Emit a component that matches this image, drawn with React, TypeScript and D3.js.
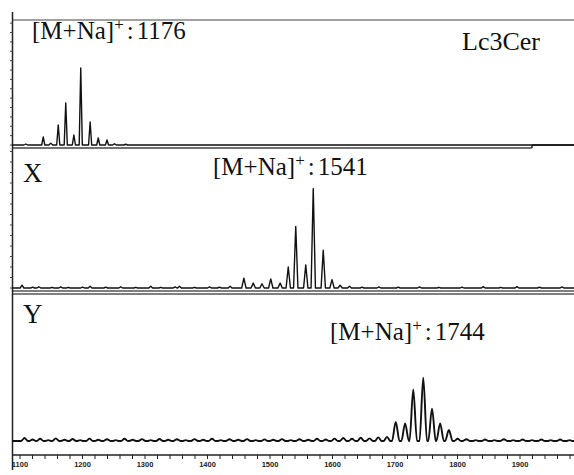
import React, { useEffect, useRef } from 'react';
import * as d3 from 'd3';

const W = 574;
const H = 475;

// m/z axis labels
const AXIS_LABELS = [1100, 1200, 1300, 1400, 1500, 1600, 1700, 1800, 1900];

// panel names and ion masses
const PANEL_NAMES = ['Lc3Cer', 'X', 'Y'];
const ION_MASSES = ['1176', '1541', '1744'];

// main peaks: [m/z, relative intensity 0-100 of panel height]
const lcPeaks: [number, number][] = [
  [1138, 6.4], [1162, 16], [1174, 33.6], [1187, 8], [1198, 61.6], [1213, 18.4], [1226, 5.6], [1240, 4],
];
const xPeaks: [number, number][] = [
  [1459, 7], [1474, 3.5], [1488, 3], [1502, 6.5], [1517, 3.5], [1530, 15], [1542, 44],
  [1558, 16.5], [1570, 71], [1586, 27], [1600, 6], [1613, 2],
];
const yPeaks: [number, number][] = [
  [1702, 13], [1717, 12], [1730, 35], [1746, 43], [1760, 22], [1773, 12], [1787, 7.5],
];

// small baseline bumps
const lcNoise: [number, number][] = [[1110, 0.8], [1150, 1.5], [1252, 1], [1270, 0.6]];
const xNoise: [number, number][] = [
  [1104, 2], [1121, 0.6], [1131, 0.9], [1152, 0.5], [1166, 0.8], [1178, 0.5], [1201, 0.7], [1213, 1.2],
  [1238, 0.6], [1262, 0.9], [1286, 0.5], [1310, 1.3], [1326, 0.5], [1349, 0.8], [1356, 1.2], [1380, 0.5],
  [1404, 0.8], [1420, 0.6], [1437, 1.2], [1628, 1.2], [1648, 0.6], [1675, 0.8], [1706, 0.6], [1740, 0.8],
  [1771, 0.5], [1808, 0.7], [1842, 1], [1870, 0.5], [1896, 1], [1932, 0.6], [1968, 0.8],
];
const yNoise: [number, number][] = [
  [1108, 2], [1121, 1], [1133, 1.5], [1146, 0.6], [1158, 1.8], [1172, 0.8], [1185, 1.4], [1197, 0.6],
  [1212, 1.6], [1226, 0.9], [1240, 1.2], [1254, 0.6], [1268, 1.5], [1281, 0.8], [1296, 1.3], [1310, 0.6],
  [1324, 1.4], [1338, 0.9], [1352, 1.2], [1366, 0.6], [1380, 1.3], [1394, 0.9], [1408, 1.5], [1422, 0.6],
  [1436, 1.2], [1450, 0.8], [1464, 1.3], [1478, 0.6], [1492, 1.1], [1506, 0.8], [1520, 1.3], [1534, 0.6],
  [1548, 1.2], [1562, 0.8], [1576, 1.5], [1590, 1], [1604, 1.6], [1618, 2], [1632, 1.5], [1646, 2.2],
  [1660, 1.8], [1674, 2.5], [1688, 2.8], [1801, 1.5], [1815, 1.2], [1830, 0.6], [1845, 1], [1860, 0.6],
  [1875, 1.2], [1890, 0.6], [1905, 1], [1920, 0.6], [1935, 1], [1950, 0.6], [1965, 1], [1980, 0.6],
];

const SERIF = '"Liberation Serif", "Times New Roman", serif';

const xScale = d3.scaleLinear().domain([1100, 2000]).range([19.5, 582]);

// panel geometry (top edge, baseline) + peak/bump half widths
const PANELS = [
  { top: 20, base: 145, peaks: lcPeaks, noise: lcNoise, hw: 2.5, nw: 3, curve: d3.curveLinear, sw: 1.4 },
  { top: 148, base: 288, peaks: xPeaks, noise: xNoise, hw: 3.5, nw: 3, curve: d3.curveLinear, sw: 1.4 },
  { top: 294, base: 441, peaks: yPeaks, noise: yNoise, hw: 6, nw: 5.5, curve: d3.curveMonotoneX, sw: 1.9 },
];

const spectrumPoints = (peaks: [number, number][], noise: [number, number][], hw: number, nw: number) => {
  const pts: [number, number][] = [[1080, 0], [2010, 0]];
  peaks.forEach(([c, h]) => pts.push([c - hw, 0], [c, h], [c + hw, 0]));
  noise.forEach(([c, h]) => pts.push([c - nw, 0], [c, h], [c + nw, 0]));
  return pts.sort((a, b) => a[0] - b[0]);
};

const IonLabel = ({ x, y, mass }: { x: number; y: number; mass: string }) => (
  <text x={x} y={y} fontFamily={SERIF} fontSize={25} fill="#111">
    [M+Na]
    <tspan dy={-9} fontSize={17}>+</tspan>
    <tspan dy={9} dx={3}>:</tspan>
    <tspan dx={3}>{mass}</tspan>
  </text>
);

const App = () => {
  const axisRef = useRef<SVGGElement>(null);

  useEffect(() => {
    const g = d3.select(axisRef.current);
    g.selectAll('*').remove();
    const axis = d3
      .axisBottom(xScale)
      .tickValues(d3.range(1100, 2000, 20))
      .tickSize(4)
      .tickFormat((d) => (AXIS_LABELS.includes(d as number) ? String(d) : ''));
    g.call(axis);
    g.select('.domain').remove();
    g.selectAll('.tick line').attr('stroke', '#222').attr('stroke-width', 1);
    g.selectAll('.tick text')
      .attr('y', 7)
      .style('font-family', '"Liberation Sans", Arial, sans-serif')
      .style('font-size', '7.5px')
      .style('font-weight', 'bold')
      .attr('fill', '#222');
  }, []);

  const lcBorderEnd = xScale(1920);

  return (
    <svg width={W} height={H} style={{ position: 'absolute', left: 0, top: 0, background: '#fff' }}>
      <defs>
        <clipPath id="plot">
          <rect x={12} y={0} width={W - 12} height={H} />
        </clipPath>
      </defs>

      {/* frame */}
      <line x1={12} x2={W} y1={20} y2={20} stroke="#444" strokeWidth={1.2} />
      <line x1={12} x2={lcBorderEnd} y1={148} y2={148} stroke="#444" strokeWidth={1.5} />
      <line x1={lcBorderEnd} x2={lcBorderEnd} y1={145} y2={148} stroke="#222" strokeWidth={1.5} />
      <line x1={lcBorderEnd} x2={W} y1={145} y2={145} stroke="#222" strokeWidth={1.5} />
      <line x1={12} x2={W} y1={291} y2={291} stroke="#555" strokeWidth={1.3} />
      <line x1={12} x2={W} y1={294} y2={294} stroke="#555" strokeWidth={1.3} />
      <line x1={12} x2={W} y1={455} y2={455} stroke="#222" strokeWidth={1.3} />
      <line x1={12.5} x2={12.5} y1={12} y2={470} stroke="#222" strokeWidth={1.5} />

      {/* intensity ticks on left edge for upper panels */}
      {PANELS.slice(0, 2).map((p, i) => {
        const y = d3.scaleLinear().domain([0, 100]).range([p.base, p.top]);
        return d3.range(0, 101, 7.5).map((t) => (
          <line key={`${i}-${t}`} x1={10} x2={12.5} y1={y(t)} y2={y(t)} stroke="#444" strokeWidth={1} />
        ));
      })}

      {/* spectra */}
      <g clipPath="url(#plot)">
        {PANELS.map((p, i) => {
          const y = d3.scaleLinear().domain([0, 100]).range([p.base, p.top]);
          const line = d3
            .line<[number, number]>()
            .x((d) => xScale(d[0]))
            .y((d) => y(d[1]))
            .curve(p.curve);
          return (
            <path
              key={i}
              d={line(spectrumPoints(p.peaks, p.noise, p.hw, p.nw)) || ''}
              fill="none"
              stroke="#111"
              strokeWidth={p.sw}
              strokeLinejoin="round"
            />
          );
        })}
      </g>

      <g ref={axisRef} transform="translate(0,455)" />

      {/* labels */}
      <IonLabel x={32} y={39} mass={ION_MASSES[0]} />
      <IonLabel x={213} y={175} mass={ION_MASSES[1]} />
      <IonLabel x={330} y={340} mass={ION_MASSES[2]} />
      <text x={462} y={50} fontFamily={SERIF} fontSize={26} fill="#111">{PANEL_NAMES[0]}</text>
      <text x={23} y={182} fontFamily={SERIF} fontSize={27} fill="#111">{PANEL_NAMES[1]}</text>
      <text x={23} y={323} fontFamily={SERIF} fontSize={27} fill="#111">{PANEL_NAMES[2]}</text>
    </svg>
  );
};

export default App;
